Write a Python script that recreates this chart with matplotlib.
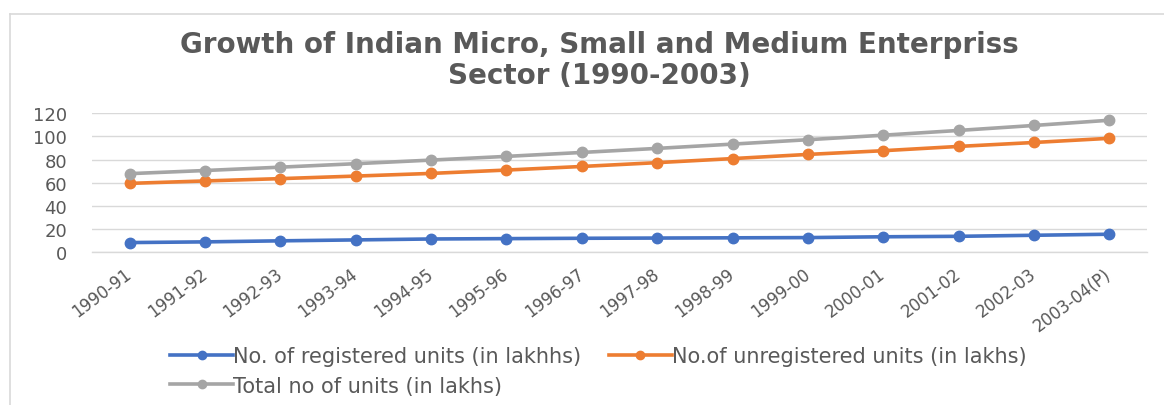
import matplotlib
matplotlib.use("Agg")
import matplotlib.pyplot as plt
from matplotlib.lines import Line2D

years = ["1990-91", "1991-92", "1992-93", "1993-94", "1994-95", "1995-96", "1996-97",
         "1997-98", "1998-99", "1999-00", "2000-01", "2001-02", "2002-03", "2003-04(P)"]
registered = [8.4, 9.0, 9.9, 10.7, 11.5, 11.8, 12.1, 12.3, 12.5, 12.7, 13.4, 13.8, 14.7, 15.6]
unregistered = [59.5, 61.6, 63.6, 65.8, 68.1, 71.0, 74.1, 77.4, 80.9, 84.5, 87.7, 91.4, 94.8, 98.4]
total = [67.9, 70.6, 73.5, 76.5, 79.6, 82.8, 86.2, 89.7, 93.4, 97.2, 101.1, 105.2, 109.5, 114.0]

names = ["No. of registered units (in lakhhs)", "No.of unregistered units (in lakhs)",
         "Total no of units (in lakhs)"]
colors = ["#4472C4", "#ED7D31", "#A5A5A5"]
txt = "#595959"

plt.rcParams['font.family'] = ['DejaVu Sans']

fig = plt.figure(figsize=(11.64, 4.06), dpi=100)
ax = fig.add_axes([92 / 1164, 1 - 253.3 / 406, (1147 - 92) / 1164, (253.3 - 114.3) / 406])

x = list(range(len(years)))
for vals, c, n in zip([registered, unregistered, total], colors, names):
    ax.plot(x, vals, color=c, lw=2.6, marker='o', ms=7.5, label=n, solid_capstyle='round',
            zorder=3)

ax.set_xlim(-0.5, len(years) - 0.5)
ax.set_ylim(0, 120)
ax.set_yticks(range(0, 121, 20))
ax.grid(axis='y', color='#D9D9D9', lw=1)
ax.axhline(0, color='#D9D9D9', lw=1, clip_on=False, zorder=1)
ax.set_axisbelow(True)
for s in ax.spines.values():
    s.set_visible(False)
ax.tick_params(length=0, colors=txt)
ax.tick_params(axis='y', pad=18, labelsize=13)
ax.set_xticks(x)
ax.set_xticklabels(years, rotation=37, ha='right', va='center', rotation_mode='anchor')
ax.tick_params(axis='x', pad=14, labelsize=12)

fig.text(0.515, 1 - 45 / 406, "Growth of Indian Micro, Small and Medium Enterpriss",
         ha='center', va='center', fontsize=20, fontweight='bold', color=txt)
fig.text(0.515, 1 - 76 / 406, "Sector (1990-2003)",
         ha='center', va='center', fontsize=20, fontweight='bold', color=txt)

# legend fills column-first: order so row 1 = registered, unregistered
order = [0, 2, 1]
handles = [Line2D([], [], color=colors[i], lw=2.6, marker='o', ms=6) for i in order]
fig.legend(handles, [names[i] for i in order], ncol=2, loc='center',
           bbox_to_anchor=(0.514, 1 - 372 / 406),
           frameon=False, fontsize=15, labelcolor=txt, handlelength=3.0,
           handletextpad=0.0, columnspacing=1.35, labelspacing=0.45)

# chart border
fig.add_artist(Line2D([10 / 1164, 10 / 1164], [0, 1 - 15 / 406], color='#D9D9D9', lw=1.2,
                      transform=fig.transFigure))
fig.add_artist(Line2D([10 / 1164, 1], [1 - 15 / 406, 1 - 15 / 406], color='#D9D9D9', lw=1.2,
                      transform=fig.transFigure))

fig.savefig("out.png", dpi=100)
